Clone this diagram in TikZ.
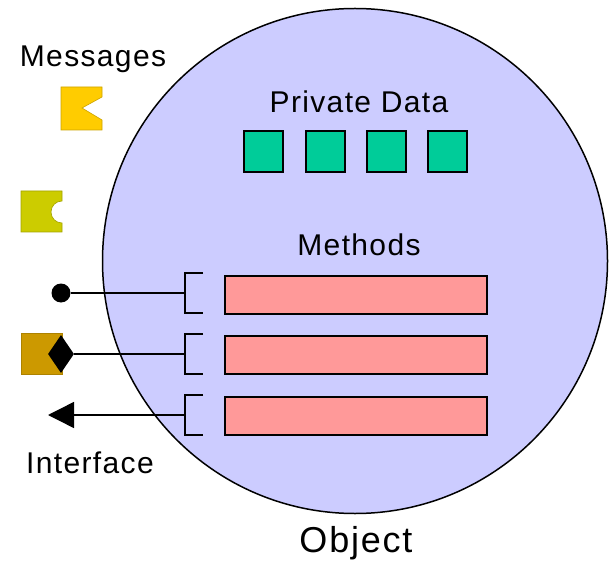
\documentclass[tikz,border=0pt]{standalone}
\usepackage{fontspec}
\setmainfont{Liberation Sans}
\usetikzlibrary{shapes.geometric,arrows.meta}
\definecolor{objfill}{HTML}{CCCCFF}
\definecolor{datafill}{HTML}{00CC99}
\definecolor{methfill}{HTML}{FF9999}
\definecolor{msgA}{HTML}{FFCC00}
\definecolor{msgB}{HTML}{CCCC00}
\definecolor{msgC}{HTML}{CC9900}
\tikzset{
  lbl/.style={inner sep=0pt, anchor=base, font=\fontsize{30}{36}\selectfont\addfontfeature{LetterSpace=4.5}},
  objlbl/.style={inner sep=0pt, anchor=base, font=\fontsize{36}{42}\selectfont\addfontfeature{LetterSpace=5}},
  databox/.style={draw=black, line width=1.6pt, fill=datafill, minimum width=39pt, minimum height=41pt, inner sep=0pt},
  methbox/.style={draw=black, line width=1.6pt, fill=methfill, minimum width=262pt, minimum height=38pt, inner sep=0pt},
  brk/.style={minimum width=18pt, minimum height=40pt, inner sep=0pt},
  brkline/.style={line width=1.6pt},
  wire/.style={line width=1.4pt},
}
\begin{document}
\begin{tikzpicture}[x=1pt,y=-1pt]
\useasboundingbox (0,0) rectangle (610,561);
% object circle
\node[circle, draw=black, line width=1.5pt, fill=objfill, minimum size=505pt, inner sep=0pt] (obj) at (355,261) {};
% labels
\node[lbl] (msg) at (93,67) {Messages};
\node[lbl] (pdata) at (359,113) {Private Data};
\node[lbl] (meth) at (359,256) {Methods};
\node[lbl] (intf) at (90,473) {Interface};
\node[objlbl] (objl) at (356,552) {Object};
% private data
\node[databox] (d1) at (263.5,151.5) {};
\node[databox] (d2) at (325.5,151.5) {};
\node[databox] (d3) at (386.5,151.5) {};
\node[databox] (d4) at (447.5,151.5) {};
% methods
\node[methbox] (m1) at (356,295) {};
\node[methbox] (m2) at (356,355) {};
\node[methbox] (m3) at (356,416) {};
% brackets
\node[brk] (b1) at (194,293) {};
\node[brk] (b2) at (194,354) {};
\node[brk] (b3) at (194,415) {};
\foreach \b in {b1,b2,b3}
  \draw[brkline] (\b.north east) -- (\b.north west) -- (\b.south west) -- (\b.south east);
% messages icons
\draw[fill=msgA, draw=msgA!80!black, line width=0.6pt] (61,87) -- (102,87) -- (102,97) -- (82,108) -- (102,120) -- (102,130) -- (61,130) -- cycle;
\draw[fill=msgB, draw=msgB!80!black, line width=0.6pt] (21,191) -- (62,191) -- (62,201) arc[start angle=90, end angle=270, radius=11pt] -- (62,232) -- (21,232) -- cycle;
\node[fill=msgC, draw=msgC!85!black, line width=0.6pt, minimum size=41pt, inner sep=0pt] (sq) at (41.5,353.5) {};
% interface connectors
\node[circle, fill=black, minimum size=19pt, inner sep=0pt] (dot) at (61,293) {};
\node[diamond, fill=black, minimum width=26pt, minimum height=38pt, inner sep=0pt] (dia) at (61,354) {};
\coordinate (tip) at (48,415);
\draw[wire] (dot) -- (b1.west);
\draw[wire] (dia) -- (b2.west);
\draw[wire, -{Triangle[length=26pt, width=26pt]}] (b3.west) -- (tip);
\end{tikzpicture}
\end{document}
